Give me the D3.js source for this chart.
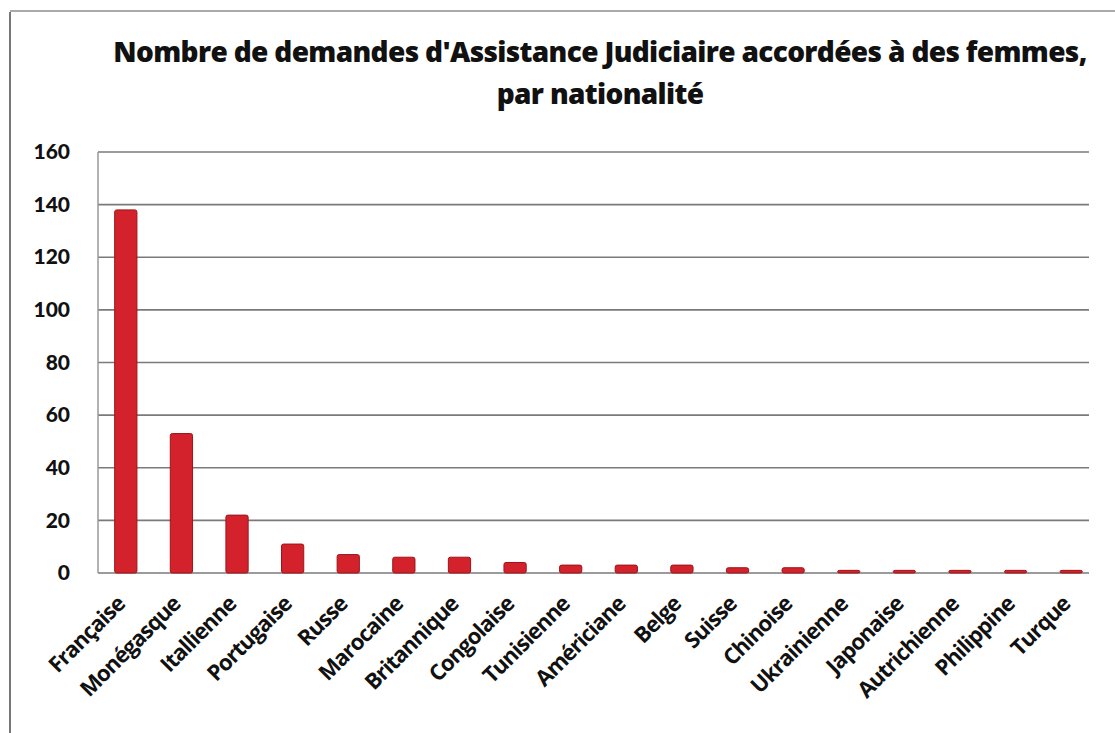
<!DOCTYPE html>
<html>
<head>
<meta charset="utf-8">
<script src="https://cdn.jsdelivr.net/npm/d3@7"></script>
<style>
  body { margin: 0; background: #fff; }
  svg { display: block; }
</style>
</head>
<body>
<div id="chart"></div>
<script>
const nationalites = ["Française", "Monégasque", "Itallienne", "Portugaise", "Russe", "Marocaine",
  "Britannique", "Congolaise", "Tunisienne", "Américiane", "Belge", "Suisse", "Chinoise",
  "Ukrainienne", "Japonaise", "Autrichienne", "Philippine", "Turque"];
const demandes = [138, 53, 22, 11, 7, 6, 6, 4, 3, 3, 3, 2, 2, 1, 1, 1, 1, 1];
const yTicks = [0, 20, 40, 60, 80, 100, 120, 140, 160];
const titre = ["Nombre de demandes d'Assistance Judiciaire accordées à des femmes,", "par nationalité"];

const width = 1115;
const height = 733;
const margin = { top: 152, right: 16, bottom: 160, left: 98 };

const svg = d3.select("#chart").append("svg")
  .attr("width", width)
  .attr("height", height);

// bords du scan
svg.append("line").attr("x1", 10).attr("x2", 10).attr("y1", 12).attr("y2", height)
  .attr("stroke", "#777").attr("stroke-width", 2);
svg.append("line").attr("x1", 10).attr("x2", width).attr("y1", 11).attr("y2", 11)
  .attr("stroke", "#aaa").attr("stroke-width", 2);

const x = d3.scaleBand()
  .domain(nationalites)
  .range([margin.left, width - margin.right])
  .paddingInner(0.6)
  .paddingOuter(0.3);

const y = d3.scaleLinear()
  .domain([0, 160])
  .range([height - margin.bottom, margin.top]);

// grille
svg.append("g")
  .selectAll("line")
  .data(yTicks)
  .join("line")
  .attr("x1", margin.left)
  .attr("x2", width - margin.right - 10)
  .attr("y1", d => y(d))
  .attr("y2", d => y(d))
  .attr("stroke", "#7a7a7a")
  .attr("stroke-width", 1.6);

svg.append("line")
  .attr("x1", margin.left).attr("x2", margin.left)
  .attr("y1", y(160)).attr("y2", y(0))
  .attr("stroke", "#999").attr("stroke-width", 1.5);

// barres
svg.append("g")
  .selectAll("rect")
  .data(demandes)
  .join("rect")
  .attr("x", (d, i) => x(nationalites[i]))
  .attr("y", d => y(d))
  .attr("width", x.bandwidth())
  .attr("height", d => y(0) - y(d))
  .attr("rx", 2)
  .attr("fill", "#d3222b")
  .attr("stroke", "#9e1418")
  .attr("stroke-width", 1);

// axe Y
const yAxis = svg.append("g")
  .attr("transform", `translate(${margin.left - 28},0)`)
  .call(d3.axisLeft(y).tickValues(yTicks).tickSize(0).tickPadding(0));
yAxis.select(".domain").remove();
yAxis.selectAll("text")
  .attr("font-family", "Lato")
  .attr("font-weight", "900")
  .attr("font-size", 21)
  .attr("fill", "#111");

// axe X
const xAxis = svg.append("g")
  .attr("transform", `translate(0,${y(0)})`)
  .call(d3.axisBottom(x).tickSize(0).tickPadding(0));
xAxis.select(".domain").remove();
xAxis.selectAll("text")
  .attr("font-family", "Open Sans")
  .attr("font-weight", "700")
  .attr("font-size", 22)
  .attr("letter-spacing", -0.9)
  .attr("fill", "#111")
  .attr("text-anchor", "end")
  .attr("dy", "0.35em")
  .attr("transform", "translate(-5,27) rotate(-45)");

// titre
svg.append("g")
  .selectAll("text")
  .data(titre)
  .join("text")
  .attr("x", 600)
  .attr("y", (d, i) => 62 + i * 42)
  .attr("text-anchor", "middle")
  .attr("font-family", "Open Sans")
  .attr("font-weight", "800")
  .attr("font-size", 28)
  .attr("letter-spacing", -0.65)
  .attr("fill", "#111")
  .text(d => d);
</script>
</body>
</html>
